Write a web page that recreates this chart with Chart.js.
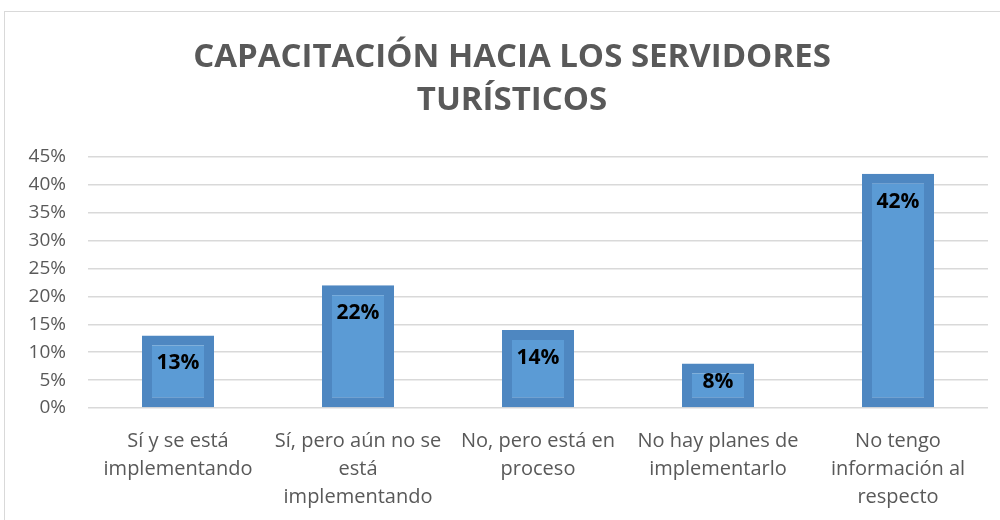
<!DOCTYPE html>
<html>
<head>
<meta charset="utf-8">
<script src="https://cdn.jsdelivr.net/npm/chart.js@4.4.1/dist/chart.umd.min.js"></script>
<style>
  html, body { margin: 0; padding: 0; background: #fff; overflow: hidden; }
  #wrap { position: relative; width: 1000px; height: 520px; }
  #frame { position: absolute; left: 4px; top: 11px; width: 1100px; height: 600px;
           border: 1px solid #d9d9d9; pointer-events: none; }
</style>
</head>
<body>
<div id="wrap">
  <canvas id="myChart" width="1000" height="520"></canvas>
  <div id="frame"></div>
</div>
<script>
const titleLines = ['CAPACITACIÓN HACIA LOS SERVIDORES', 'TURÍSTICOS'];
const categories = [
    ['Sí y se está', 'implementando'],
    ['Sí, pero aún no se', 'está', 'implementando'],
    ['No, pero está en', 'proceso'],
    ['No hay planes de', 'implementarlo'],
    ['No tengo', 'información al', 'respecto']
];
const values = [13, 22, 14, 8, 42];
const yTicks = [0, 5, 10, 15, 20, 25, 30, 35, 40, 45];

const gray = '#595959';

// title drawn by hand so it sits where Excel put it
const titlePlugin = {
    id: 'excelTitle',
    afterDraw(chart) {
        const c = chart.ctx;
        c.save();
        c.fillStyle = gray;
        c.font = 'bold 33px "Open Sans"';
        c.textAlign = 'center';
        c.textBaseline = 'middle';
        c.fillText(titleLines[0], 512, 58);
        c.fillText(titleLines[1], 512, 101);
        c.restore();
    }
};

// value labels inside the bar top
const labelPlugin = {
    id: 'barLabels',
    afterDatasetsDraw(chart) {
        const c = chart.ctx;
        const meta = chart.getDatasetMeta(0);
        c.save();
        c.fillStyle = '#000';
        c.font = 'bold 21px "Open Sans"';
        c.textAlign = 'center';
        c.textBaseline = 'middle';
        meta.data.forEach((bar, i) => {
            const mid = (bar.y + bar.base) / 2;
            const y = Math.min(bar.y + 28, mid - 3);
            c.fillText(values[i] + '%', bar.x, y);
        });
        c.restore();
    }
};

const ctx = document.getElementById('myChart').getContext('2d');
const myChart = new Chart(ctx, {
    type: 'bar',
    data: {
        labels: categories,
        datasets: [{
            data: values,
            backgroundColor: '#5b9bd5',
            borderColor: '#4e87c1',
            borderWidth: 10,
            borderSkipped: false,
            barPercentage: 0.4,
            categoryPercentage: 1
        }]
    },
    options: {
        responsive: false,
        animation: false,
        layout: { padding: { top: 157, right: 12, left: 0, bottom: 0 } },
        plugins: {
            legend: { display: false },
            title: { display: false },
            tooltip: { enabled: false }
        },
        scales: {
            x: {
                grid: { display: false, drawTicks: false },
                border: { display: false },
                ticks: {
                    color: gray,
                    font: { family: 'Open Sans', size: 20, lineHeight: 1.4 },
                    padding: 19,
                    maxRotation: 0,
                    autoSkip: false
                },
                afterFit(scale) { scale.height = 112; }
            },
            y: {
                min: 0,
                max: 45,
                afterBuildTicks(scale) { scale.ticks = yTicks.map(v => ({ value: v })); },
                grid: { color: '#d9d9d9', lineWidth: 1.5, drawTicks: false },
                border: { display: false },
                ticks: {
                    color: gray,
                    font: { family: 'Open Sans', size: 19 },
                    padding: 22,
                    callback: v => v + '%'
                },
                afterFit(scale) { scale.width = 88; }
            }
        }
    },
    plugins: [titlePlugin, labelPlugin]
});
</script>
</body>
</html>
